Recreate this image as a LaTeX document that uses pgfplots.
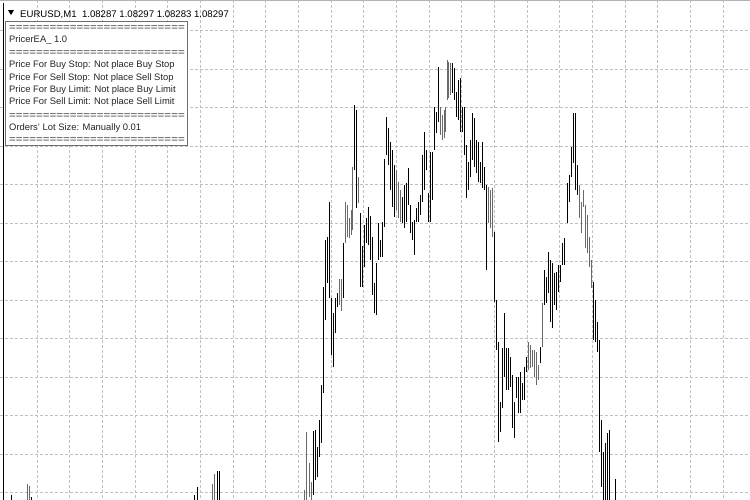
\documentclass[border=0pt]{standalone}
\usepackage{pgfplots}
\usepackage{pgfplotstable}
\usepackage{graphicx}
\usepackage{fontspec}
\setmainfont{Liberation Sans}
\pgfplotsset{compat=1.18}

\definecolor{gridgray}{RGB}{192,192,192}
\definecolor{bargray}{RGB}{105,105,105}
\definecolor{boxgray}{RGB}{110,110,110}

% bars: x position, high and low in screen units (0 = top)
\pgfplotstableread{
x hi lo
11 495 520
31 497 520
194 495 520
197 487 520
217 471 520
219 471 520
313 431 495
315 430 480
317 447 477
319 420 457
321 385 443
323 287 393
325 240 320
327 237 283
329 202 298
331 298 355
333 313 367
335 298 333
337 293 307
343 243 298
354 105 170
356 110 208
360 213 287
362 246 287
364 225 267
366 218 243
368 207 245
370 216 260
372 237 295
374 283 313
376 263 315
378 223 260
380 240 257
382 222 257
384 159 227
386 117 155
388 128 165
390 142 190
392 150 207
394 165 217
402 197 223
404 185 228
406 183 222
408 168 205
410 205 233
412 222 240
414 220 255
416 208 222
418 202 222
420 195 215
422 155 202
424 132 190
426 150 170
428 193 222
430 152 222
432 152 200
434 107 150
436 112 133
438 67 122
452 63 93
454 68 100
456 92 117
458 80 120
460 78 132
462 107 132
464 107 155
466 145 198
468 162 190
470 140 177
472 113 160
474 118 167
476 140 173
478 142 182
480 162 183
482 142 188
484 167 190
486 185 270
494 232 302
496 300 350
498 342 442
500 402 432
502 348 408
504 313 377
506 348 390
508 348 390
510 357 387
512 375 428
514 402 438
516 377 398
518 377 413
520 372 413
522 383 400
524 367 400
526 357 372
540 347 363
544 270 305
546 277 303
548 252 293
550 260 322
552 263 328
554 273 305
556 272 310
558 265 292
560 265 282
562 243 265
564 238 265
567 183 223
569 175 202
571 147 177
573 113 163
575 113 190
577 165 195
593 282 340
595 300 342
597 322 352
599 340 452
601 420 487
603 452 520
605 443 520
607 433 520
609 430 520
615 479 520
}\blackbars

\pgfplotstableread{
x hi lo
27 484 520
29 486 520
212 484 520
214 474 520
304 490 520
306 432 520
309 463 497
311 482 520
339 279 305
341 279 311
345 202 243
347 205 237
349 218 238
351 210 235
352 167 230
358 177 203
396 170 210
398 182 218
400 190 222
440 107 135
442 115 140
444 110 138
445 107 132
447 60 100
448 62 98
450 63 95
488 187 223
490 190 228
492 188 237
528 342 370
530 345 368
532 350 367
534 350 377
536 352 385
538 365 380
542 303 347
579 185 218
581 202 233
583 190 207
585 205 248
587 215 253
589 237 267
591 260 288
}\graybars

\newcommand{\eqrow}{\scalebox{1.23}[1]{==========================}}

\begin{document}
\begin{tikzpicture}
\begin{axis}[
  scale only axis,
  width=750bp, height=500bp,
  xmin=0, xmax=750, ymin=0, ymax=500,
  y dir=reverse,
  axis line style={draw=none},
  xtick={37,69.7,102.4,135,167.7,200.4,233.1,265.8,298.4,331.1,363.8,396.5,429.2,461.8,494.5,527.2,559.9,592.6,625.2,657.9,690.6,723.3},
  ytick={30.5,69,107.5,146,184.5,223,261.5,300,338.5,377,415.5,454,492.5},
  xticklabels={}, yticklabels={},
  major tick length=0pt,
  grid=major,
  major grid style={gridgray, line width=1bp, dash pattern=on 3bp off 2bp},
  ]
  \addplot [draw=none, mark=none,
    error bars/.cd, y dir=plus, y explicit, error mark=none,
    error bar style={draw=black, solid, line width=1bp}]
    table [x=x, y=hi, y error expr=\thisrow{lo}-\thisrow{hi}] {\blackbars};
  \addplot [draw=none, mark=none,
    error bars/.cd, y dir=plus, y explicit, error mark=none,
    error bar style={draw=bargray, solid, line width=1bp}]
    table [x=x, y=hi, y error expr=\thisrow{lo}-\thisrow{hi}] {\graybars};

  % frame of the chart window
  \draw [gray!60, line width=1bp] (axis cs:0,0.5) -- (axis cs:750,0.5);
  \draw [black, line width=1bp] (axis cs:3,3) -- (axis cs:3,500);

  % symbol line
  \fill [black] (axis cs:8,10) -- (axis cs:14,10) -- (axis cs:11,15) -- cycle;
  \node [anchor=base west, inner sep=0pt, font=\fontsize{9.6bp}{11bp}\selectfont]
    at (axis cs:20,17) {EURUSD,M1\ \ 1.08287 1.08297 1.08283 1.08297};

  % comment box
  \draw [fill=white, draw=boxgray, line width=1bp] (axis cs:5,21) rectangle (axis cs:187,145);
  \begin{scope}[every node/.style={anchor=base west, inner sep=0pt,
      font=\fontsize{9.4bp}{11bp}\selectfont, text=black!85}]
    \node at (axis cs:9,30) {\eqrow};
    \node at (axis cs:9,42.3) {PricerEA\_ 1.0};
    \node at (axis cs:9,55) {\eqrow};
    \node at (axis cs:9,67.3) {Price For Buy Stop: Not place Buy Stop};
    \node at (axis cs:9,80) {Price For Sell Stop: Not place Sell Stop};
    \node at (axis cs:9,92.3) {Price For Buy Limit: Not place Buy Limit};
    \node at (axis cs:9,104.3) {Price For Sell Limit: Not place Sell Limit};
    \node at (axis cs:9,118) {\eqrow};
    \node at (axis cs:9,130.3) {Orders' Lot Size: Manually 0.01};
    \node at (axis cs:9,142) {\eqrow};
  \end{scope}
\end{axis}
\pgfresetboundingbox
\path [use as bounding box] (0,0) rectangle (750bp,500bp);
\end{tikzpicture}
\end{document}
